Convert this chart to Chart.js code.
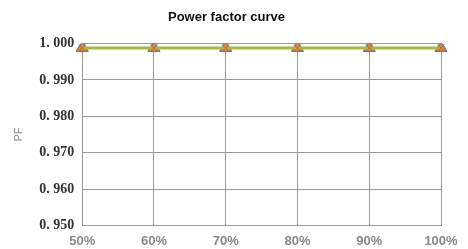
<!DOCTYPE html>
<html>
<head>
<meta charset="utf-8">
<script src="https://cdn.jsdelivr.net/npm/chart.js@4"></script>
<style>
  html, body { margin: 0; padding: 0; background: #fff; }
  #wrap { width: 468px; height: 249px; }
</style>
</head>
<body>
<div id="wrap"><canvas id="pfChart"></canvas></div>
<script>
// load levels and measured power factor per phase
const loadLevels = ['50%', '60%', '70%', '80%', '90%', '100%'];
const pfPhaseA = [0.9988, 0.9988, 0.9988, 0.9988, 0.9988, 0.9988];
const pfPhaseB = [0.9988, 0.9988, 0.9988, 0.9988, 0.9988, 0.9988];
const pfPhaseC = [0.9988, 0.9988, 0.9988, 0.9988, 0.9988, 0.9988];
const yTicks = [0.95, 0.96, 0.97, 0.98, 0.99, 1.0];

const ctx = document.getElementById('pfChart').getContext('2d');
new Chart(ctx, {
    type: 'line',
    data: {
        labels: loadLevels,
        datasets: [{
            label: 'A',
            data: pfPhaseA,
            borderColor: '#5a73b0',
            backgroundColor: '#6b7fb8',
            borderWidth: 1,
            pointStyle: 'triangle',
            pointRadius: 7,
            showLine: false,
            order: 3
        }, {
            label: 'B',
            data: pfPhaseB,
            borderColor: '#d9822b',
            backgroundColor: '#d98a3a',
            borderWidth: 1,
            pointStyle: 'triangle',
            pointRadius: 5,
            showLine: false,
            order: 2
        }, {
            label: 'C',
            data: pfPhaseC,
            borderColor: '#a8b840',
            backgroundColor: '#c9a83a',
            borderWidth: 3,
            pointStyle: 'crossRot',
            pointRadius: 5,
            pointBorderColor: '#d05a4a',
            pointBorderWidth: 1,
            order: 1
        }]
    },
    options: {
        responsive: true,
        maintainAspectRatio: false,
        animation: false,
        layout: {
            padding: { left: 12, right: 27, top: 0, bottom: -8 }
        },
        scales: {
            x: {
                offset: false,
                grid: { color: '#9a9a9a', lineWidth: 1, drawTicks: false },
                border: { color: '#9a9a9a' },
                ticks: {
                    color: '#888',
                    padding: 8,
                    font: { family: 'Liberation Sans', size: 13, weight: 'bold' }
                }
            },
            y: {
                min: 0.95,
                max: 1.0,
                afterBuildTicks: axis => {
                    axis.ticks = yTicks.map(v => ({ value: v }));
                },
                grid: { color: '#9a9a9a', lineWidth: 1, drawTicks: false },
                border: { color: '#9a9a9a' },
                title: {
                    display: true,
                    text: 'PF',
                    color: '#888',
                    padding: { top: 0, bottom: 6 },
                    font: { family: 'Liberation Sans', size: 11 }
                },
                ticks: {
                    color: '#333',
                    padding: 8,
                    callback: v => Number(v).toFixed(3).replace('.', '. '),
                    font: { family: 'Liberation Serif', size: 14, weight: 'bold' }
                }
            }
        },
        plugins: {
            legend: { display: false },
            title: {
                display: true,
                text: 'Power factor curve',
                color: '#111',
                padding: { top: 10, bottom: 18 },
                font: { family: 'Liberation Sans', size: 13, weight: 'bold' }
            },
            tooltip: { enabled: false }
        }
    }
});
</script>
</body>
</html>
